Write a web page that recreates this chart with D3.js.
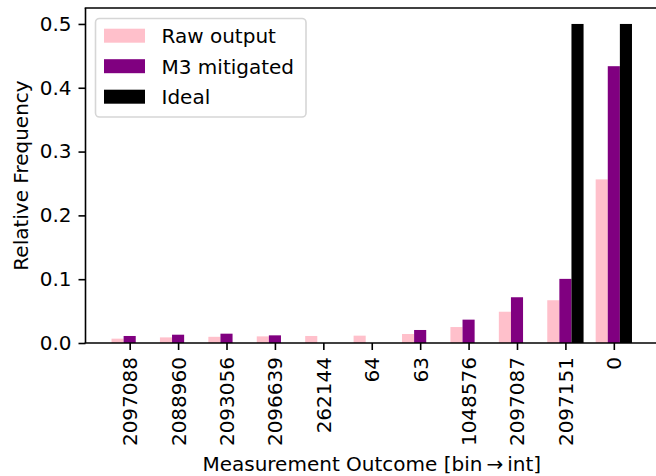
<!DOCTYPE html>
<html>
<head>
<meta charset="utf-8">
<script src="https://cdn.jsdelivr.net/npm/d3@7"></script>
<style>
  html, body { margin: 0; padding: 0; background: #fff; }
  svg { display: block; font-family: "DejaVu Sans", sans-serif; }
</style>
</head>
<body>
<svg id="chart" width="656" height="476"></svg>
<script>
const categories = ["2097088","2088960","2093056","2096639","262144","64","63","1048576","2097087","2097151","0"];
const rawOutput = [0.0068,0.0088,0.0097,0.0104,0.0110,0.0115,0.0141,0.0250,0.0490,0.0670,0.2564];
const m3Mitigated = [0.0110,0.0130,0.0146,0.0120,0,0,0.0204,0.0366,0.0717,0.1005,0.4338];
const ideal = [0,0,0,0,0,0,0,0,0,0.5,0.5];
const yTicks = [0.0,0.1,0.2,0.3,0.4,0.5];
const seriesNames = ["Raw output","M3 mitigated","Ideal"];
const seriesColors = ["pink","purple","black"];

(function () {
const svg = d3.select("#chart");
const pLeft = 85.5, pRight = 658, pTop = 8, pBottom = 343;
const barW = 0.25;
const x = d3.scaleLinear().domain([-0.9125, 10.9125]).range([pLeft, pRight]);
const y = d3.scaleLinear().domain([0, 0.525]).range([pBottom, pTop]);

const series = [rawOutput, m3Mitigated, ideal];
const offsets = [-barW, 0, barW];

series.forEach((vals, s) => {
  svg.append("g").selectAll("rect")
    .data(vals.map((v, i) => ({v, i})).filter(d => d.v > 0))
    .enter().append("rect")
    .attr("x", d => x(d.i + offsets[s] - barW / 2))
    .attr("width", d => x(d.i + offsets[s] + barW / 2) - x(d.i + offsets[s] - barW / 2))
    .attr("y", d => y(d.v))
    .attr("height", d => y(0) - y(d.v))
    .attr("fill", seriesColors[s]);
});

// y axis
const yAxis = d3.axisLeft(y).tickValues(yTicks).tickFormat(d3.format(".1f")).tickSize(7).tickPadding(7);
const gy = svg.append("g").attr("transform", `translate(${pLeft},0)`).call(yAxis);
gy.select(".domain").remove();
gy.selectAll(".tick line").attr("stroke", "#000").attr("stroke-width", 1.6);
gy.selectAll(".tick text").attr("font-size", 20).attr("font-family", "DejaVu Sans").attr("fill", "#000");

// x axis
const xAxis = d3.axisBottom(x).tickValues(d3.range(categories.length)).tickFormat(i => categories[i]).tickSize(7).tickPadding(7);
const gx = svg.append("g").attr("transform", `translate(0,${pBottom})`).call(xAxis);
gx.select(".domain").remove();
gx.selectAll(".tick line").attr("stroke", "#000").attr("stroke-width", 1.6);
gx.selectAll(".tick text")
  .attr("font-size", 20).attr("font-family", "DejaVu Sans").attr("fill", "#000")
  .attr("transform", "rotate(-90)")
  .attr("text-anchor", "end")
  .attr("x", -14).attr("y", 0).attr("dy", "0.35em");

// spines
svg.append("line").attr("x1", pLeft).attr("x2", pLeft).attr("y1", pTop).attr("y2", pBottom).attr("stroke", "#000").attr("stroke-width", 1.6);
svg.append("line").attr("x1", pLeft - 0.8).attr("x2", 660).attr("y1", pBottom).attr("y2", pBottom).attr("stroke", "#000").attr("stroke-width", 1.6);
svg.append("line").attr("x1", pLeft - 0.8).attr("x2", 660).attr("y1", pTop).attr("y2", pTop).attr("stroke", "#000").attr("stroke-width", 1.6);

// axis labels
svg.append("text").attr("transform", `translate(28,${(pTop + pBottom) / 2}) rotate(-90)`)
  .attr("text-anchor", "middle").attr("font-size", 20).attr("fill", "#000").text("Relative Frequency");
svg.append("text").attr("x", (pLeft + pRight) / 2).attr("y", 471)
  .attr("text-anchor", "middle").attr("font-size", 20).attr("fill", "#000").text("Measurement Outcome [bin\u2009\u2192\u2009int]");

// legend
const lg = svg.append("g");
lg.append("rect").attr("x", 95.5).attr("y", 18.5).attr("width", 210.5).attr("height", 98.5)
  .attr("rx", 4).attr("fill", "#fff").attr("fill-opacity", 0.8).attr("stroke", "#d6d6d6").attr("stroke-width", 1.6);
seriesNames.forEach((name, k) => {
  const cy = 35.7 + k * 30.5;
  lg.append("rect").attr("x", 104).attr("y", cy - 7).attr("width", 41).attr("height", 14).attr("fill", seriesColors[k]);
  lg.append("text").attr("x", 161.5).attr("y", cy + 7.3).attr("font-size", 20).attr("fill", "#000").text(name);
});
})();
</script>
</body>
</html>
